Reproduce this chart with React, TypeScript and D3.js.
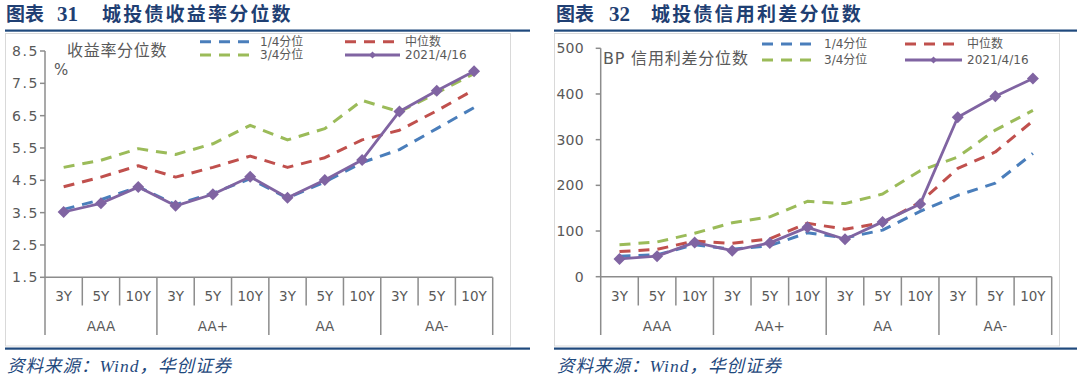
import React from 'react';
import * as d3 from 'd3';

// ---------- data ----------
const terms = ['3Y', '5Y', '10Y'];
const ratings = ['AAA', 'AA+', 'AA', 'AA-'];
const categories = ratings.flatMap((r) => terms.map((t) => `${r}|${t}`));

const seriesNames = ['1/4分位', '中位数', '3/4分位', '2021/4/16'];

// 城投债收益率分位数 (%)
const yieldQ1 = [3.6, 3.9, 4.3, 3.75, 4.1, 4.55, 3.95, 4.45, 5.05, 5.45, 6.1, 6.75];
const yieldMedian = [4.3, 4.6, 4.95, 4.6, 4.9, 5.25, 4.9, 5.2, 5.75, 6.05, 6.65, 7.3];
const yieldQ3 = [4.9, 5.12, 5.48, 5.3, 5.63, 6.2, 5.75, 6.1, 6.97, 6.62, 7.2, 7.8];
const yieldNow = [3.52, 3.79, 4.29, 3.71, 4.07, 4.61, 3.96, 4.51, 5.13, 6.63, 7.27, 7.87];
const yieldTicks = [1.5, 2.5, 3.5, 4.5, 5.5, 6.5, 7.5, 8.5];

// 城投债信用利差分位数 (BP)
const spreadQ1 = [45, 48, 70, 60, 68, 96, 85, 102, 143, 178, 205, 270];
const spreadMedian = [55, 60, 78, 73, 83, 117, 104, 118, 163, 237, 273, 341];
const spreadQ3 = [70, 76, 95, 118, 131, 165, 160, 181, 232, 262, 321, 364];
const spreadNow = [39, 45, 75, 57, 74, 108, 82, 120, 159, 349, 395, 434];
const spreadTicks = [0, 100, 200, 300, 400, 500];

// ---------- styles ----------
const FONT = '"DejaVu Sans", "Noto Sans CJK SC", sans-serif';
const TITLE_COLOR = '#1F3F73';
const RULE_COLOR = '#1F497D';
const AXIS_COLOR = '#8C8C8C';
const TEXT_COLOR = '#595959';
const COLORS = ['#4A7EBB', '#C0504D', '#9BBB59', '#8064A2'];

type PanelProps = {
  frameX0: number; frameX1: number;
  ruleX1: number;
  titleX: number; numX: number; mainX: number;
  num: string; title: string;
  axisX0: number; axisX1: number; yTop: number; yBottom: number;
  domain: [number, number]; ticks: number[]; tickFmt: (v: number) => string;
  tickLabelRight: number; tickSpacing: number;
  series: number[][];
  innerTitle: string; innerTitleX: number; innerTitleY: number; innerSpacing: number;
  unit?: string; unitX?: number; unitY?: number;
  legCol1: number; legCol2: number; legRow1: number; legRow2: number; legSeg: number;
};

const diamond = (x: number, y: number, r: number) =>
  `M${x},${y - r}L${x + r},${y}L${x},${y + r}L${x - r},${y}Z`;

function Panel(p: PanelProps) {
  const x = d3.scaleBand<string>().domain(categories).range([p.axisX0, p.axisX1]).paddingInner(0).paddingOuter(0);
  const y = d3.scaleLinear().domain(p.domain).range([p.yBottom, p.yTop]);
  const line = d3
    .line<number>()
    .x((_, i) => (x(categories[i]) as number) + x.bandwidth() / 2)
    .y((d) => y(d));
  const bw = x.bandwidth();
  const catY = 296;
  const grpY = 326;
  const innerBottom = 305.5;
  const grpBottom = 335;

  const legendItems = [
    { i: 0, lx: p.legCol1, ly: p.legRow1 },
    { i: 1, lx: p.legCol2, ly: p.legRow1 },
    { i: 2, lx: p.legCol1, ly: p.legRow2 },
    { i: 3, lx: p.legCol2, ly: p.legRow2 },
  ];

  return (
    <g>
      {/* heading */}
      <text x={p.titleX} y={21} fontFamily='"Noto Sans CJK SC", sans-serif' fontWeight={700} fontSize={19} fill={TITLE_COLOR}>
        图表
      </text>
      <text x={p.numX} y={21} fontFamily='"Liberation Serif", serif' fontWeight={700} fontSize={21} fill={TITLE_COLOR}>
        {p.num}
      </text>
      <text x={p.mainX} y={21} fontFamily='"Noto Sans CJK SC", sans-serif' fontWeight={700} fontSize={19} fill={TITLE_COLOR} letterSpacing={2.2}>
        {p.title}
      </text>
      <rect x={p.frameX0} y={29.5} width={p.ruleX1 - p.frameX0} height={2.2} fill={RULE_COLOR} />
      {/* frame */}
      <rect x={p.frameX0 + 0.5} y={33.5} width={p.frameX1 - p.frameX0} height={312.5} fill="#fff" stroke="#D9D9D9" strokeWidth={1} />
      <rect x={p.frameX0} y={347.5} width={p.ruleX1 - p.frameX0} height={2.2} fill={RULE_COLOR} />
      <text x={p.titleX + 1} y={372} fontFamily='"Liberation Serif", "Noto Sans CJK SC", serif' fontStyle="italic" fontSize={17.5} fill={RULE_COLOR} letterSpacing={1}>
        资料来源：Wind，华创证券
      </text>

      {/* y axis */}
      <line x1={p.axisX0} x2={p.axisX0} y1={p.yTop} y2={grpBottom} stroke={AXIS_COLOR} strokeWidth={1.5} />
      {p.ticks.map((t) => (
        <g key={t}>
          <line x1={p.axisX0 - 5} x2={p.axisX0} y1={y(t)} y2={y(t)} stroke={AXIS_COLOR} strokeWidth={1.5} />
          <text x={p.tickLabelRight} y={y(t)} textAnchor="end" dominantBaseline="central" fontFamily={FONT} fontSize={14} fill={TEXT_COLOR} letterSpacing={p.tickSpacing}>
            {p.tickFmt(t)}
          </text>
        </g>
      ))}

      {/* x axis */}
      <line x1={p.axisX0} x2={p.axisX1} y1={p.yBottom} y2={p.yBottom} stroke={AXIS_COLOR} strokeWidth={1.5} />
      {categories.map((c, i) => {
        const left = x(c) as number;
        const isGroupStart = i % 3 === 0;
        return (
          <g key={c}>
            {i > 0 && (
              <line x1={left} x2={left} y1={p.yBottom} y2={isGroupStart ? grpBottom : innerBottom} stroke={AXIS_COLOR} strokeWidth={1.5} />
            )}
            <text x={left + bw / 2} y={catY} textAnchor="middle" dominantBaseline="central" fontFamily={FONT} fontSize={13.5} fill={TEXT_COLOR}>
              {c.split('|')[1]}
            </text>
          </g>
        );
      })}
      <line x1={p.axisX1} x2={p.axisX1} y1={p.yBottom} y2={grpBottom} stroke={AXIS_COLOR} strokeWidth={1.5} />
      {ratings.map((r, gi) => {
        const left = x(categories[gi * 3]) as number;
        return (
          <text key={r} x={left + bw * 1.5} y={grpY} textAnchor="middle" dominantBaseline="central" fontFamily={FONT} fontSize={13.5} fill={TEXT_COLOR}>
            {r}
          </text>
        );
      })}

      {/* inner title */}
      <text x={p.innerTitleX} y={p.innerTitleY} dominantBaseline="central" fontFamily={FONT} fontSize={16} fill={TEXT_COLOR} letterSpacing={p.innerSpacing}>
        {p.innerTitle}
      </text>
      {p.unit && (
        <text x={p.unitX} y={p.unitY} dominantBaseline="central" fontFamily={FONT} fontSize={15} fill={TEXT_COLOR}>
          {p.unit}
        </text>
      )}

      {/* series */}
      {p.series.map((s, si) => (
        <path
          key={si}
          d={line(s) as string}
          fill="none"
          stroke={COLORS[si]}
          strokeWidth={si === 3 ? 2.8 : 3}
          strokeDasharray={si === 3 ? undefined : '11,8'}
          strokeLinejoin="round"
        />
      ))}
      {p.series[3].map((v, i) => (
        <path key={i} d={diamond((x(categories[i]) as number) + bw / 2, y(v), 6)} fill={COLORS[3]} />
      ))}

      {/* legend */}
      {legendItems.map(({ i, lx, ly }) => (
        <g key={i}>
          <line
            x1={lx}
            x2={lx + p.legSeg}
            y1={ly}
            y2={ly}
            stroke={COLORS[i]}
            strokeWidth={3}
            strokeDasharray={i === 3 ? undefined : '11,8'}
          />
          {i === 3 && <path d={diamond(lx + p.legSeg / 2, ly, 3.5)} fill={COLORS[3]} />}
          <text x={lx + p.legSeg + 5} y={ly} dominantBaseline="central" fontFamily={FONT} fontSize={12} fill={TEXT_COLOR}>
            {seriesNames[i]}
          </text>
        </g>
      ))}
    </g>
  );
}

export default function App() {
  return (
    <svg width={1080} height={379} style={{ position: 'absolute', left: 0, top: 0, background: '#fff' }}>
      <rect x={0} y={0} width={1080} height={379} fill="#fff" />
      <Panel
        frameX0={5} frameX1={510} ruleX1={530}
        titleX={6} numX={57} mainX={102}
        num="31" title="城投债收益率分位数"
        axisX0={45} axisX1={492.7} yTop={51} yBottom={277.3}
        domain={[1.5, 8.5]} ticks={yieldTicks} tickFmt={(v) => v.toFixed(1)}
        tickLabelRight={39} tickSpacing={1.6}
        series={[yieldQ1, yieldMedian, yieldQ3, yieldNow]}
        innerTitle="收益率分位数" innerTitleX={67} innerTitleY={50} innerSpacing={0.7}
        unit="%" unitX={54} unitY={70}
        legCol1={200} legCol2={345} legRow1={41.7} legRow2={55} legSeg={55}
      />
      <Panel
        frameX0={554} frameX1={1059} ruleX1={1077}
        titleX={556} numX={609} mainX={651}
        num="32" title="城投债信用利差分位数"
        axisX0={600.7} axisX1={1051.7} yTop={48.3} yBottom={276.7}
        domain={[0, 500]} ticks={spreadTicks} tickFmt={(v) => String(v)}
        tickLabelRight={584} tickSpacing={0.3}
        series={[spreadQ1, spreadMedian, spreadQ3, spreadNow]}
        innerTitle="BP 信用利差分位数" innerTitleX={603} innerTitleY={58} innerSpacing={0.8}
        legCol1={762} legCol2={905} legRow1={44} legRow2={60} legSeg={57}
      />
    </svg>
  );
}
